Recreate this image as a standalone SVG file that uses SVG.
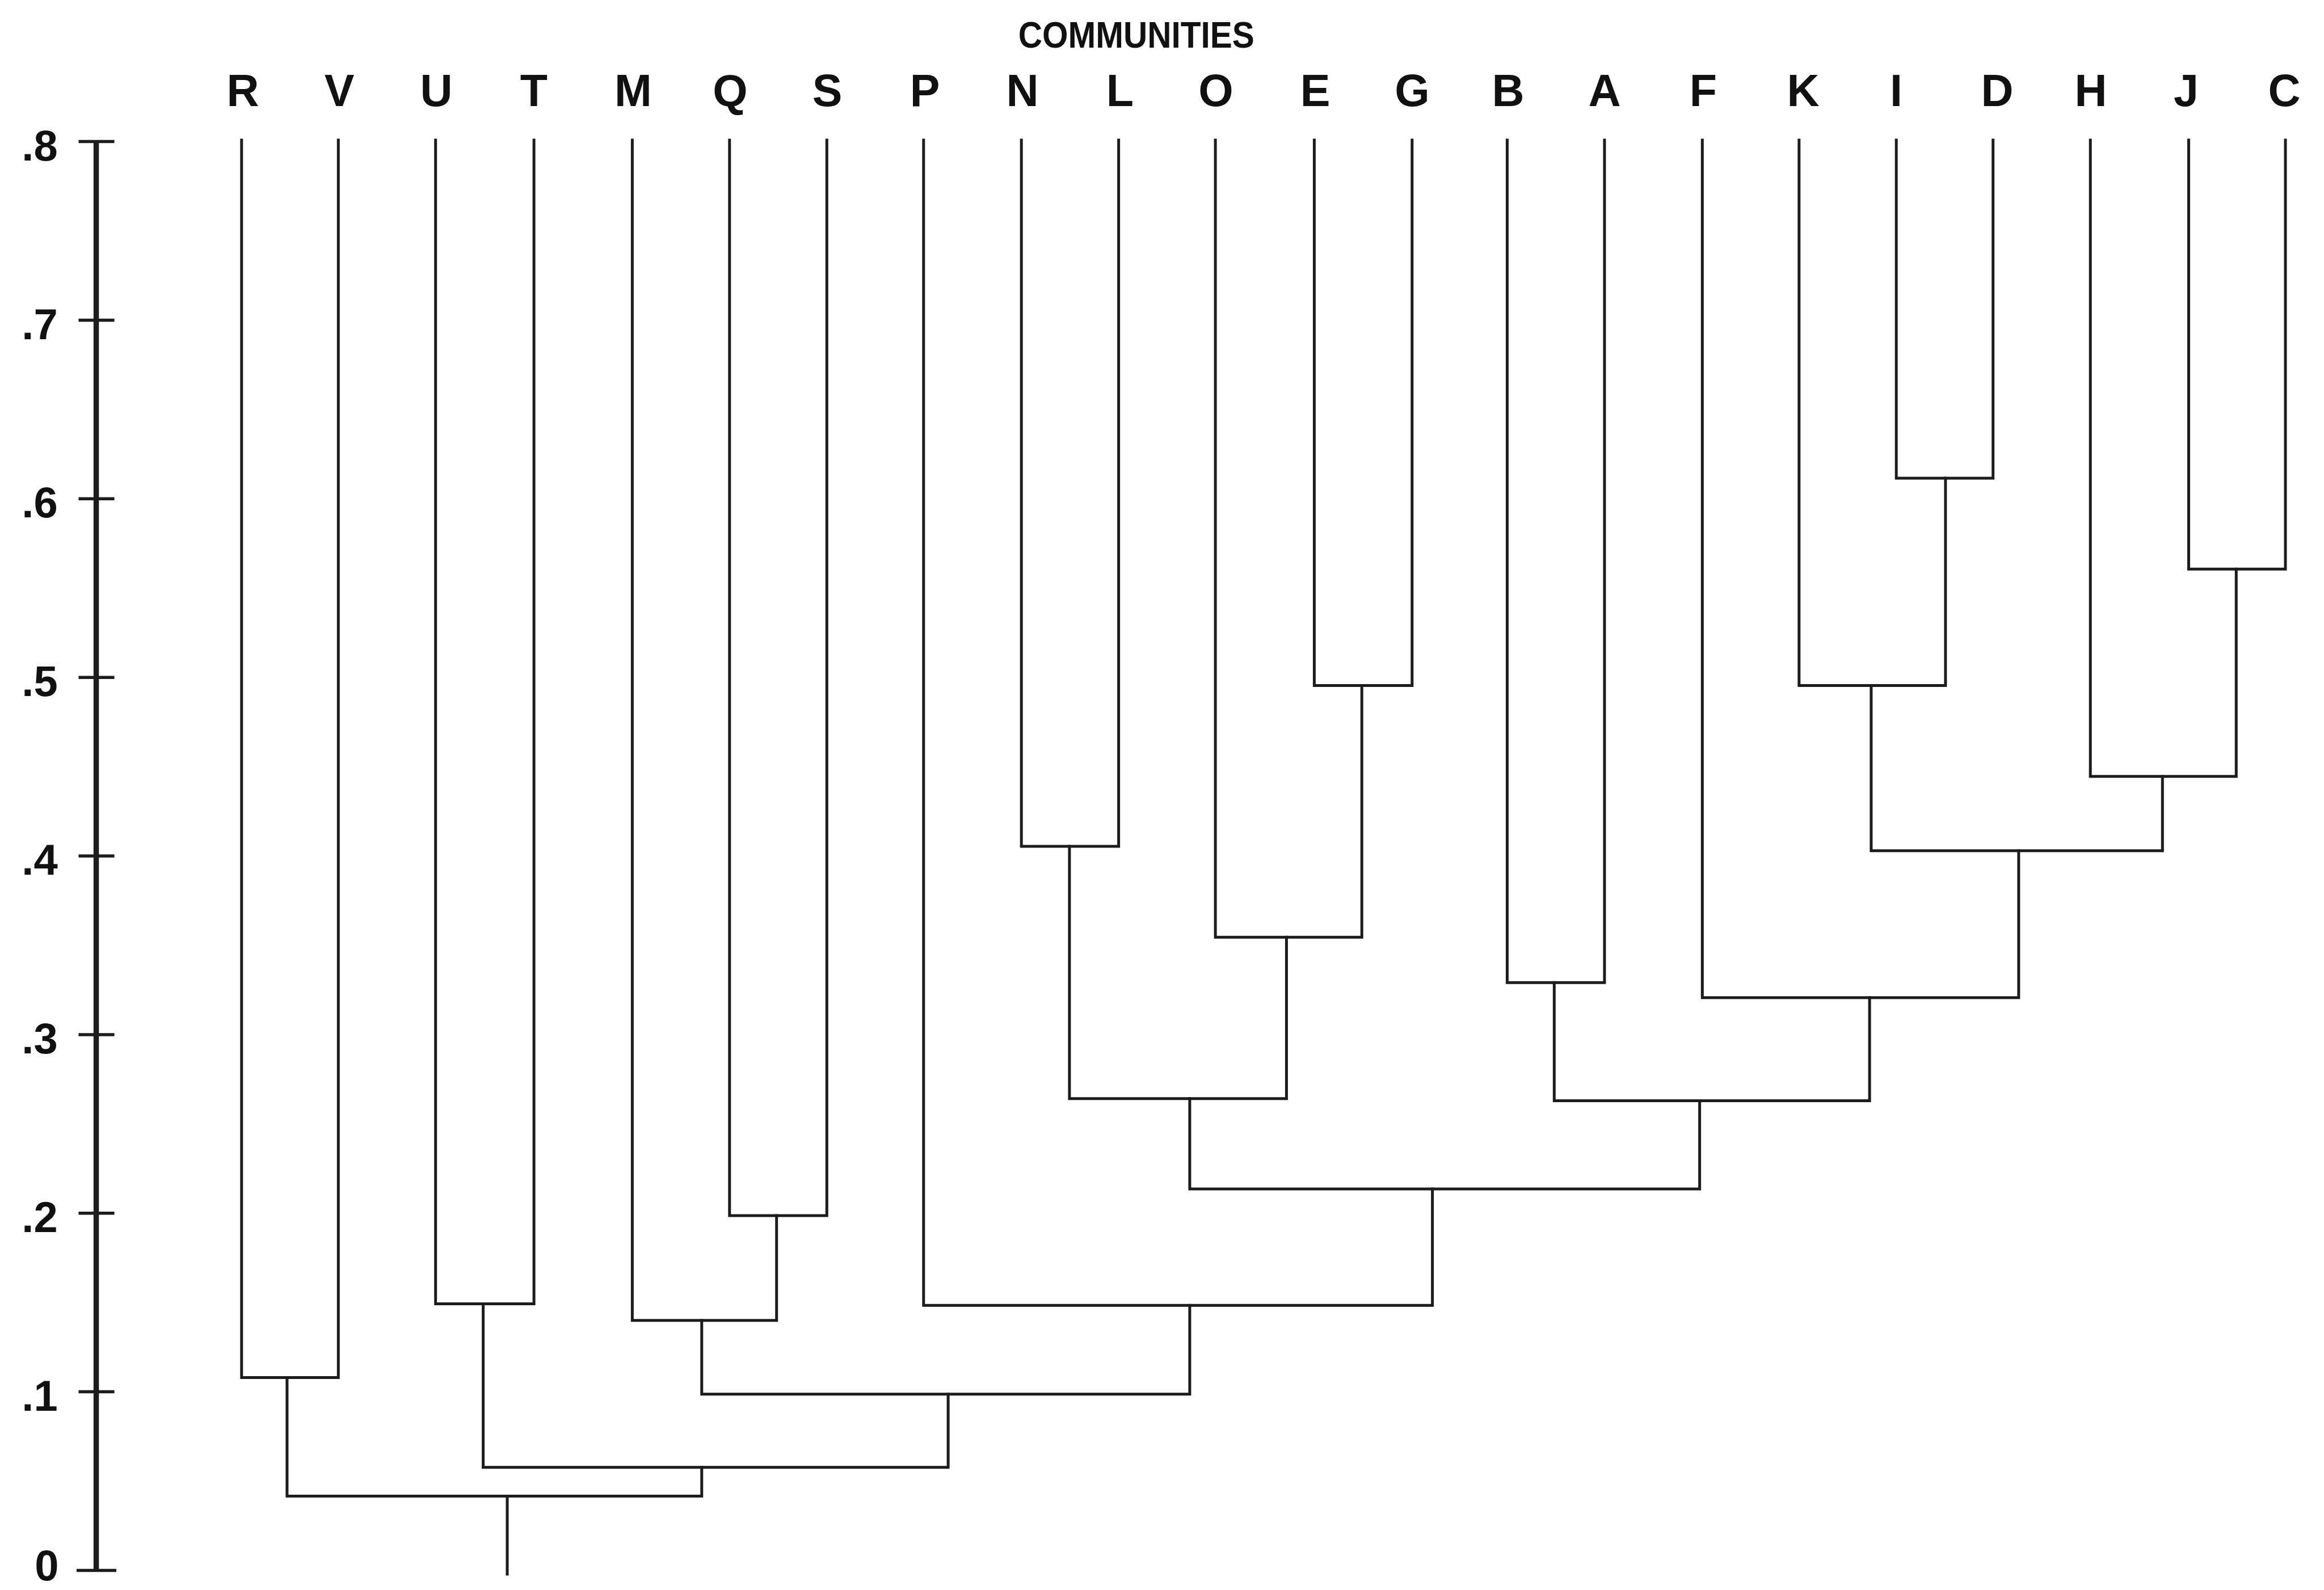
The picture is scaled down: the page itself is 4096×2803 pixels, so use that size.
<svg xmlns="http://www.w3.org/2000/svg" width="4096" height="2803" viewBox="0 0 4096 2803">
  <style>
    .leaf { font-family: "Liberation Sans", Arial, sans-serif; font-weight: 700; font-size: 79px; fill: #111; text-anchor: middle; }
    .tick-label { font-family: "Liberation Sans", Arial, sans-serif; font-weight: 700; font-size: 76px; fill: #111; text-anchor: end; }
    .title { font-family: "Liberation Sans", Arial, sans-serif; font-weight: 700; font-size: 64px; fill: #111; text-anchor: middle; }
    .branch { fill: none; stroke: #1c1c1c; stroke-width: 5; stroke-linejoin: miter; stroke-linecap: square; }
    .axis { stroke: #1c1c1c; stroke-width: 9.5; fill: none; }
    .tick { stroke: #1c1c1c; stroke-width: 5.5; fill: none; }
  </style>
  <rect width="4096" height="2803" fill="#ffffff"/>

  <!-- title -->
  <text id="title" class="title" x="2002.7" y="84" textLength="416" lengthAdjust="spacingAndGlyphs">COMMUNITIES</text>

  <!-- similarity axis -->
  <g id="axis">
    <line class="axis" x1="169.6" y1="247" x2="169.6" y2="2770.5"/>
    <line class="tick" x1="138.5" y1="249.6" x2="201.6" y2="249.6"/>
    <line class="tick" x1="138.5" y1="564.5" x2="201.6" y2="564.5"/>
    <line class="tick" x1="138.5" y1="879.3" x2="201.6" y2="879.3"/>
    <line class="tick" x1="138.5" y1="1194.2" x2="201.6" y2="1194.2"/>
    <line class="tick" x1="138.5" y1="1509.1" x2="201.6" y2="1509.1"/>
    <line class="tick" x1="138.5" y1="1823.9" x2="201.6" y2="1823.9"/>
    <line class="tick" x1="138.5" y1="2138.8" x2="201.6" y2="2138.8"/>
    <line class="tick" x1="138.5" y1="2453.6" x2="201.6" y2="2453.6"/>
    <line class="tick" x1="135" y1="2768.5" x2="205" y2="2768.5"/>
    <text class="tick-label" x="101.7" y="282.6">.8</text>
    <text class="tick-label" x="101.7" y="597.5">.7</text>
    <text class="tick-label" x="101.7" y="912.3">.6</text>
    <text class="tick-label" x="101.7" y="1227.2">.5</text>
    <text class="tick-label" x="101.7" y="1542.1">.4</text>
    <text class="tick-label" x="101.7" y="1856.9">.3</text>
    <text class="tick-label" x="101.7" y="2171.8">.2</text>
    <text class="tick-label" x="101.7" y="2486.6">.1</text>
    <text class="tick-label" x="103.5" y="2786">0</text>
  </g>

  <!-- community labels -->
  <g id="node-R"><text class="leaf" x="428" y="186.5">R</text></g>
  <g id="node-V"><text class="leaf" x="598" y="186.5">V</text></g>
  <g id="node-U"><text class="leaf" x="769" y="186.5">U</text></g>
  <g id="node-T"><text class="leaf" x="941" y="186.5">T</text></g>
  <g id="node-M"><text class="leaf" x="1116" y="186.5">M</text></g>
  <g id="node-Q"><text class="leaf" x="1287" y="186.5">Q</text></g>
  <g id="node-S"><text class="leaf" x="1458" y="186.5">S</text></g>
  <g id="node-P"><text class="leaf" x="1630" y="186.5">P</text></g>
  <g id="node-N"><text class="leaf" x="1802" y="186.5">N</text></g>
  <g id="node-L"><text class="leaf" x="1974" y="186.5">L</text></g>
  <g id="node-O"><text class="leaf" x="2143" y="186.5">O</text></g>
  <g id="node-E"><text class="leaf" x="2318" y="186.5">E</text></g>
  <g id="node-G"><text class="leaf" x="2489" y="186.5">G</text></g>
  <g id="node-B"><text class="leaf" x="2658" y="186.5">B</text></g>
  <g id="node-A"><text class="leaf" x="2828" y="186.5">A</text></g>
  <g id="node-F"><text class="leaf" x="3002" y="186.5">F</text></g>
  <g id="node-K"><text class="leaf" x="3178" y="186.5">K</text></g>
  <g id="node-I"><text class="leaf" x="3342" y="186.5">I</text></g>
  <g id="node-D"><text class="leaf" x="3520" y="186.5">D</text></g>
  <g id="node-H"><text class="leaf" x="3685" y="186.5">H</text></g>
  <g id="node-J"><text class="leaf" x="3853" y="186.5">J</text></g>
  <g id="node-C"><text class="leaf" x="4026" y="186.5">C</text></g>

  <!-- dendrogram branches: each path joins two clusters at their fusion level -->
  <g id="connectors" class="branch">
    <path d="M425.8,247 V2428.5 H596.3 V247"/>
    <path d="M767.7,247 V2298.5 H941.1 V247"/>
    <path d="M1285.8,247 V2143.1 H1457.3 V247"/>
    <path d="M1114.4,247 V2327.7 H1368.7 V2143.1"/>
    <path d="M1800.2,247 V1492.1 H1971.6 V247"/>
    <path d="M2316.4,247 V1208.6 H2488.8 V247"/>
    <path d="M2142.1,247 V1652.3 H2400.2 V1208.6"/>
    <path d="M1884.9,1492.1 V1936.8 H2267.4 V1652.3"/>
    <path d="M2656.4,247 V1732.3 H2827.9 V247"/>
    <path d="M3342.2,247 V843.1 H3512.7 V247"/>
    <path d="M3170.8,247 V1208.6 H3428.9 V843.1"/>
    <path d="M3857.5,247 V1003.2 H4028 V247"/>
    <path d="M3684.2,247 V1368.7 H3941.3 V1003.2"/>
    <path d="M3297.9,1208.6 V1499.7 H3811.3 V1368.7"/>
    <path d="M3000.3,247 V1758.7 H3557.9 V1499.7"/>
    <path d="M2739.3,1732.3 V1940.5 H3295.1 V1758.7"/>
    <path d="M2096.9,1936.8 V2096 H2995.6 V1940.5"/>
    <path d="M1627.8,247 V2301.3 H2524.6 V2096"/>
    <path d="M1236.8,2327.7 V2457.7 H2096.9 V2301.3"/>
    <path d="M851.6,2298.5 V2586.7 H1671.1 V2457.7"/>
    <path d="M505.9,2428.5 V2637.6 H1236.8 V2586.7"/>
    <path d="M894,2637.6 V2775.1"/>
  </g>
</svg>
